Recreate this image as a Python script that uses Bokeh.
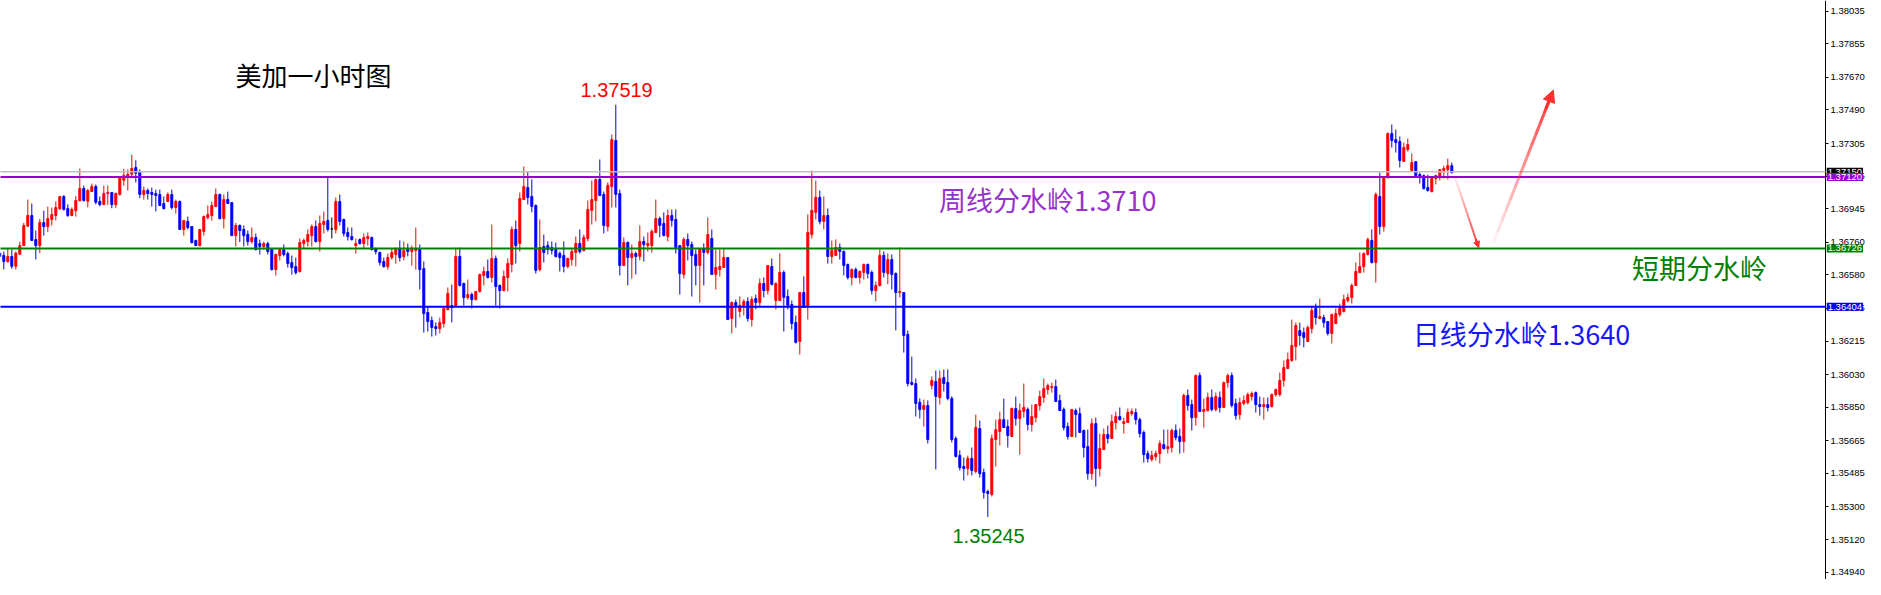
from bokeh.plotting import figure
from bokeh.models import (Range1d, FixedTicker, PrintfTickFormatter, Label,
                          Arrow, NormalHead, ColumnDataSource)
from bokeh.embed import file_html
from bokeh.resources import INLINE

# ---------------- data (USDCAD 1H candles) ----------------
opens = [
    1.36700, 1.36687, 1.36654, 1.36682, 1.36628, 1.36694, 1.36742, 1.36849, 1.36908, 1.36775,
    1.36742, 1.36869, 1.36847, 1.36886, 1.36908, 1.36945, 1.37013, 1.36946, 1.36908, 1.36935,
    1.36989, 1.37057, 1.36987, 1.37040, 1.37068, 1.36985, 1.36968, 1.37029, 1.37035, 1.36968,
    1.37024, 1.37103, 1.37123, 1.37136, 1.37173, 1.37147, 1.37024, 1.37046, 1.37035, 1.37029,
    1.37024, 1.36974, 1.36985, 1.37024, 1.36952, 1.36985, 1.36831, 1.36875, 1.36847, 1.36770,
    1.36742, 1.36820, 1.36897, 1.36908, 1.36957, 1.37024, 1.36891, 1.36996, 1.36979, 1.36797,
    1.36853, 1.36831, 1.36803, 1.36764, 1.36786, 1.36753, 1.36737, 1.36753, 1.36720, 1.36610,
    1.36687, 1.36720, 1.36698, 1.36649, 1.36626, 1.36599, 1.36753, 1.36764, 1.36797, 1.36847,
    1.36764, 1.36858, 1.36880, 1.36834, 1.36831, 1.36985, 1.36886, 1.36814, 1.36792, 1.36742,
    1.36775, 1.36753, 1.36781, 1.36786, 1.36726, 1.36704, 1.36654, 1.36626, 1.36676, 1.36693,
    1.36726, 1.36682, 1.36726, 1.36709, 1.36715, 1.36726, 1.36615, 1.36373, 1.36329, 1.36295,
    1.36284, 1.36312, 1.36389, 1.36411, 1.36411, 1.36682, 1.36533, 1.36455, 1.36472, 1.36444,
    1.36489, 1.36577, 1.36599, 1.36566, 1.36671, 1.36522, 1.36494, 1.36566, 1.36638, 1.36831,
    1.36754, 1.36996, 1.37062, 1.37013, 1.36963, 1.36610, 1.36737, 1.36742, 1.36731, 1.36720,
    1.36698, 1.36687, 1.36627, 1.36665, 1.36704, 1.36754, 1.36715, 1.36781, 1.36936, 1.36991,
    1.37107, 1.37024, 1.36847, 1.37068, 1.37322, 1.37029, 1.36632, 1.36759, 1.36676, 1.36698,
    1.36682, 1.36765, 1.36742, 1.36742, 1.36814, 1.36891, 1.36864, 1.36792, 1.36908, 1.36886,
    1.36742, 1.36583, 1.36776, 1.36748, 1.36693, 1.36632, 1.36726, 1.36704, 1.36781, 1.36583,
    1.36610, 1.36621, 1.36676, 1.36340, 1.36428, 1.36379, 1.36412, 1.36434, 1.36334, 1.36450,
    1.36428, 1.36533, 1.36494, 1.36627, 1.36439, 1.36439, 1.36594, 1.36461, 1.36417, 1.36318,
    1.36213, 1.36483, 1.36401, 1.36803, 1.36925, 1.37008, 1.36875, 1.36908, 1.36682, 1.36688,
    1.36732, 1.36710, 1.36638, 1.36566, 1.36610, 1.36566, 1.36594, 1.36638, 1.36594, 1.36494,
    1.36522, 1.36688, 1.36588, 1.36665, 1.36588, 1.36483, 1.36483, 1.36252, 1.35987, 1.35981,
    1.35877, 1.35838, 1.35860, 1.35970, 1.35992, 1.35904, 1.36014, 1.35987, 1.35899, 1.35678,
    1.35584, 1.35523, 1.35512, 1.35568, 1.35496, 1.35733, 1.35490, 1.35385, 1.35369, 1.35672,
    1.35716, 1.35782, 1.35744, 1.35689, 1.35843, 1.35788, 1.35827, 1.35838, 1.35755, 1.35793,
    1.35860, 1.35904, 1.35948, 1.35959, 1.35964, 1.35887, 1.35838, 1.35744, 1.35689, 1.35832,
    1.35815, 1.35722, 1.35633, 1.35484, 1.35760, 1.35512, 1.35617, 1.35700, 1.35678, 1.35766,
    1.35799, 1.35760, 1.35766, 1.35815, 1.35821, 1.35782, 1.35711, 1.35595, 1.35562, 1.35578,
    1.35595, 1.35644, 1.35622, 1.35628, 1.35722, 1.35689, 1.35661, 1.35915, 1.35865, 1.35793,
    1.36025, 1.35827, 1.35832, 1.35904, 1.35838, 1.35904, 1.35849, 1.35986, 1.36025, 1.35871,
    1.35810, 1.35871, 1.35876, 1.35909, 1.35931, 1.35865, 1.35854, 1.35865, 1.35854, 1.35920,
    1.35920, 1.35998, 1.36064, 1.36108, 1.36185, 1.36273, 1.36262, 1.36213, 1.36284, 1.36395,
    1.36339, 1.36345, 1.36323, 1.36257, 1.36312, 1.36361, 1.36378, 1.36439, 1.36455, 1.36522,
    1.36593, 1.36626, 1.36693, 1.36770, 1.36649, 1.37013, 1.36847, 1.37117, 1.37360, 1.37327,
    1.37316, 1.37206, 1.37272, 1.37156, 1.37205, 1.37134, 1.37128, 1.37062, 1.37040, 1.37112,
    1.37123, 1.37156, 1.37161, 1.37183,
]
highs = [
    1.36706, 1.36709, 1.36724, 1.36720, 1.36709, 1.36764, 1.36867, 1.36996, 1.36974, 1.36825,
    1.36889, 1.36935, 1.36957, 1.36952, 1.36985, 1.37013, 1.37020, 1.36970, 1.36952, 1.37015,
    1.37167, 1.37073, 1.37055, 1.37084, 1.37079, 1.37013, 1.37073, 1.37073, 1.37035, 1.37035,
    1.37114, 1.37165, 1.37162, 1.37244, 1.37213, 1.37162, 1.37068, 1.37057, 1.37062, 1.37051,
    1.37051, 1.37013, 1.37035, 1.37051, 1.36996, 1.36991, 1.36880, 1.36902, 1.36847, 1.36775,
    1.36831, 1.36908, 1.36963, 1.36985, 1.37057, 1.37029, 1.37024, 1.37040, 1.36979, 1.36867,
    1.36858, 1.36853, 1.36825, 1.36842, 1.36809, 1.36775, 1.36764, 1.36764, 1.36720, 1.36698,
    1.36726, 1.36748, 1.36709, 1.36687, 1.36676, 1.36781, 1.36781, 1.36831, 1.36858, 1.36880,
    1.36908, 1.36930, 1.37119, 1.36897, 1.37007, 1.37024, 1.36891, 1.36842, 1.36842, 1.36781,
    1.36781, 1.36809, 1.36814, 1.36792, 1.36731, 1.36709, 1.36676, 1.36698, 1.36726, 1.36731,
    1.36770, 1.36764, 1.36753, 1.36742, 1.36842, 1.36748, 1.36654, 1.36406, 1.36351, 1.36318,
    1.36345, 1.36400, 1.36511, 1.36527, 1.36731, 1.36731, 1.36538, 1.36555, 1.36483, 1.36489,
    1.36588, 1.36626, 1.36665, 1.36858, 1.36687, 1.36527, 1.36605, 1.36671, 1.36847, 1.36880,
    1.37035, 1.37178, 1.37151, 1.37107, 1.36969, 1.36886, 1.36803, 1.36765, 1.36765, 1.36759,
    1.36709, 1.36765, 1.36676, 1.36726, 1.36792, 1.36831, 1.36803, 1.36991, 1.37101, 1.37112,
    1.37217, 1.37040, 1.37090, 1.37355, 1.37519, 1.37051, 1.36787, 1.36765, 1.36748, 1.36709,
    1.36853, 1.36792, 1.36814, 1.36831, 1.36996, 1.36902, 1.36925, 1.36941, 1.36941, 1.36941,
    1.36742, 1.36787, 1.36809, 1.36765, 1.36720, 1.36726, 1.36754, 1.36897, 1.36831, 1.36720,
    1.36720, 1.36726, 1.36676, 1.36434, 1.36445, 1.36461, 1.36445, 1.36456, 1.36461, 1.36472,
    1.36561, 1.36566, 1.36632, 1.36671, 1.36539, 1.36699, 1.36605, 1.36500, 1.36439, 1.36356,
    1.36483, 1.36572, 1.36914, 1.37156, 1.37101, 1.37046, 1.37013, 1.36947, 1.36770, 1.36776,
    1.36754, 1.36715, 1.36643, 1.36616, 1.36621, 1.36605, 1.36643, 1.36643, 1.36605, 1.36544,
    1.36721, 1.36710, 1.36699, 1.36693, 1.36594, 1.36732, 1.36483, 1.36274, 1.36130, 1.36009,
    1.35899, 1.35893, 1.35888, 1.36020, 1.36053, 1.36053, 1.36059, 1.36059, 1.35910, 1.35689,
    1.35612, 1.35573, 1.35584, 1.35628, 1.35810, 1.35777, 1.35512, 1.35396, 1.35700, 1.35782,
    1.35826, 1.35898, 1.35782, 1.35849, 1.35909, 1.35871, 1.35981, 1.35849, 1.35865, 1.35865,
    1.35942, 1.36009, 1.35981, 1.35986, 1.36003, 1.35920, 1.35849, 1.35766, 1.35838, 1.35843,
    1.35849, 1.35727, 1.35727, 1.35788, 1.35793, 1.35705, 1.35733, 1.35749, 1.35810, 1.35827,
    1.35849, 1.35793, 1.35843, 1.35843, 1.35843, 1.35793, 1.35722, 1.35611, 1.35611, 1.35611,
    1.35667, 1.35727, 1.35727, 1.35733, 1.35755, 1.35733, 1.35926, 1.35948, 1.35893, 1.36031,
    1.36042, 1.35898, 1.35931, 1.35948, 1.35931, 1.35937, 1.35992, 1.36036, 1.36042, 1.35898,
    1.35904, 1.35915, 1.35931, 1.35937, 1.35937, 1.35909, 1.35904, 1.35904, 1.35926, 1.35953,
    1.36042, 1.36108, 1.36152, 1.36334, 1.36317, 1.36317, 1.36290, 1.36301, 1.36411, 1.36422,
    1.36450, 1.36361, 1.36323, 1.36367, 1.36395, 1.36422, 1.36472, 1.36477, 1.36533, 1.36649,
    1.36704, 1.36704, 1.36786, 1.36831, 1.37035, 1.37145, 1.37123, 1.37366, 1.37410, 1.37382,
    1.37344, 1.37310, 1.37333, 1.37250, 1.37205, 1.37145, 1.37134, 1.37134, 1.37117, 1.37134,
    1.37161, 1.37183, 1.37222, 1.37200,
]
lows = [
    1.36676, 1.36610, 1.36647, 1.36614, 1.36610, 1.36694, 1.36742, 1.36849, 1.36770, 1.36665,
    1.36700, 1.36797, 1.36816, 1.36853, 1.36880, 1.36939, 1.36935, 1.36900, 1.36904, 1.36902,
    1.36989, 1.36985, 1.36952, 1.37040, 1.36970, 1.36959, 1.36968, 1.36967, 1.36948, 1.36948,
    1.37018, 1.37073, 1.37046, 1.37114, 1.37090, 1.37003, 1.36996, 1.36996, 1.36957, 1.36930,
    1.36963, 1.36941, 1.36985, 1.36941, 1.36919, 1.36831, 1.36797, 1.36831, 1.36753, 1.36742,
    1.36737, 1.36797, 1.36886, 1.36880, 1.36957, 1.36886, 1.36836, 1.36974, 1.36797, 1.36737,
    1.36761, 1.36737, 1.36742, 1.36753, 1.36715, 1.36693, 1.36720, 1.36693, 1.36604, 1.36577,
    1.36660, 1.36682, 1.36621, 1.36582, 1.36582, 1.36593, 1.36726, 1.36737, 1.36737, 1.36759,
    1.36709, 1.36809, 1.36820, 1.36781, 1.36809, 1.36853, 1.36792, 1.36770, 1.36770, 1.36698,
    1.36748, 1.36726, 1.36742, 1.36715, 1.36693, 1.36632, 1.36621, 1.36610, 1.36665, 1.36643,
    1.36654, 1.36660, 1.36682, 1.36632, 1.36610, 1.36500, 1.36262, 1.36268, 1.36240, 1.36246,
    1.36257, 1.36290, 1.36384, 1.36318, 1.36411, 1.36516, 1.36411, 1.36444, 1.36395, 1.36439,
    1.36483, 1.36522, 1.36560, 1.36538, 1.36411, 1.36395, 1.36489, 1.36489, 1.36594, 1.36643,
    1.36709, 1.36996, 1.36969, 1.36925, 1.36588, 1.36599, 1.36649, 1.36693, 1.36693, 1.36676,
    1.36599, 1.36594, 1.36616, 1.36632, 1.36627, 1.36698, 1.36709, 1.36765, 1.36858, 1.36875,
    1.37018, 1.36809, 1.36820, 1.36952, 1.36952, 1.36577, 1.36632, 1.36522, 1.36560, 1.36583,
    1.36660, 1.36654, 1.36709, 1.36704, 1.36814, 1.36787, 1.36792, 1.36765, 1.36847, 1.36698,
    1.36472, 1.36560, 1.36660, 1.36461, 1.36522, 1.36428, 1.36522, 1.36693, 1.36583, 1.36500,
    1.36571, 1.36621, 1.36334, 1.36257, 1.36290, 1.36345, 1.36356, 1.36323, 1.36296, 1.36390,
    1.36401, 1.36456, 1.36472, 1.36522, 1.36390, 1.36439, 1.36268, 1.36390, 1.36279, 1.36202,
    1.36141, 1.36401, 1.36334, 1.36781, 1.36886, 1.36859, 1.36831, 1.36643, 1.36643, 1.36688,
    1.36665, 1.36577, 1.36555, 1.36522, 1.36561, 1.36533, 1.36555, 1.36561, 1.36472, 1.36434,
    1.36516, 1.36566, 1.36528, 1.36500, 1.36274, 1.36456, 1.36152, 1.35965, 1.35970, 1.35799,
    1.35788, 1.35744, 1.35650, 1.35948, 1.35507, 1.35865, 1.35937, 1.35888, 1.35656, 1.35573,
    1.35501, 1.35446, 1.35474, 1.35474, 1.35485, 1.35462, 1.35346, 1.35245, 1.35358, 1.35523,
    1.35639, 1.35738, 1.35628, 1.35689, 1.35749, 1.35589, 1.35793, 1.35722, 1.35716, 1.35766,
    1.35832, 1.35876, 1.35920, 1.35931, 1.35882, 1.35832, 1.35722, 1.35672, 1.35689, 1.35683,
    1.35711, 1.35573, 1.35451, 1.35451, 1.35413, 1.35468, 1.35617, 1.35650, 1.35678, 1.35727,
    1.35777, 1.35705, 1.35766, 1.35804, 1.35755, 1.35683, 1.35545, 1.35545, 1.35551, 1.35556,
    1.35540, 1.35617, 1.35595, 1.35600, 1.35667, 1.35595, 1.35600, 1.35832, 1.35722, 1.35749,
    1.35827, 1.35738, 1.35827, 1.35827, 1.35827, 1.35821, 1.35849, 1.35959, 1.35849, 1.35782,
    1.35782, 1.35860, 1.35865, 1.35887, 1.35821, 1.35804, 1.35782, 1.35827, 1.35849, 1.35909,
    1.35909, 1.35964, 1.36064, 1.36102, 1.36108, 1.36191, 1.36180, 1.36213, 1.36257, 1.36306,
    1.36339, 1.36290, 1.36246, 1.36202, 1.36312, 1.36350, 1.36373, 1.36428, 1.36422, 1.36522,
    1.36593, 1.36593, 1.36687, 1.36643, 1.36538, 1.36803, 1.36819, 1.37112, 1.37283, 1.37255,
    1.37173, 1.37206, 1.37261, 1.37151, 1.37123, 1.37084, 1.37051, 1.37040, 1.37035, 1.37079,
    1.37101, 1.37112, 1.37106, 1.37139,
]
closes = [
    1.36682, 1.36654, 1.36682, 1.36628, 1.36700, 1.36742, 1.36853, 1.36908, 1.36770, 1.36742,
    1.36869, 1.36847, 1.36891, 1.36913, 1.36952, 1.37013, 1.36941, 1.36908, 1.36941, 1.36991,
    1.37057, 1.36991, 1.37046, 1.37068, 1.36981, 1.36968, 1.37029, 1.37035, 1.36968, 1.37029,
    1.37114, 1.37129, 1.37136, 1.37167, 1.37141, 1.37024, 1.37046, 1.37029, 1.37024, 1.37018,
    1.36963, 1.36946, 1.37024, 1.36952, 1.36985, 1.36831, 1.36880, 1.36842, 1.36759, 1.36742,
    1.36831, 1.36902, 1.36913, 1.36963, 1.37024, 1.36891, 1.36996, 1.36974, 1.36797, 1.36853,
    1.36825, 1.36797, 1.36764, 1.36786, 1.36720, 1.36737, 1.36753, 1.36709, 1.36610, 1.36693,
    1.36720, 1.36693, 1.36643, 1.36621, 1.36593, 1.36759, 1.36770, 1.36803, 1.36847, 1.36764,
    1.36864, 1.36875, 1.36831, 1.36834, 1.36985, 1.36875, 1.36809, 1.36792, 1.36775, 1.36753,
    1.36753, 1.36786, 1.36792, 1.36720, 1.36709, 1.36649, 1.36626, 1.36676, 1.36704, 1.36726,
    1.36676, 1.36715, 1.36709, 1.36720, 1.36726, 1.36610, 1.36367, 1.36323, 1.36290, 1.36284,
    1.36318, 1.36395, 1.36478, 1.36400, 1.36682, 1.36522, 1.36455, 1.36472, 1.36444, 1.36489,
    1.36582, 1.36599, 1.36566, 1.36671, 1.36516, 1.36494, 1.36571, 1.36643, 1.36831, 1.36742,
    1.37002, 1.37068, 1.37007, 1.36958, 1.36605, 1.36731, 1.36704, 1.36720, 1.36715, 1.36682,
    1.36676, 1.36627, 1.36671, 1.36709, 1.36754, 1.36709, 1.36787, 1.36941, 1.36996, 1.37107,
    1.37018, 1.36853, 1.37074, 1.37327, 1.37024, 1.36632, 1.36759, 1.36676, 1.36698, 1.36682,
    1.36765, 1.36748, 1.36754, 1.36820, 1.36891, 1.36853, 1.36798, 1.36908, 1.36880, 1.36731,
    1.36588, 1.36776, 1.36742, 1.36687, 1.36632, 1.36726, 1.36704, 1.36803, 1.36583, 1.36621,
    1.36627, 1.36676, 1.36334, 1.36428, 1.36412, 1.36412, 1.36434, 1.36340, 1.36445, 1.36428,
    1.36533, 1.36494, 1.36632, 1.36528, 1.36533, 1.36594, 1.36456, 1.36412, 1.36312, 1.36208,
    1.36483, 1.36401, 1.36814, 1.36936, 1.37008, 1.36875, 1.36908, 1.36682, 1.36715, 1.36732,
    1.36710, 1.36632, 1.36566, 1.36610, 1.36566, 1.36599, 1.36638, 1.36588, 1.36494, 1.36522,
    1.36688, 1.36594, 1.36665, 1.36583, 1.36483, 1.36489, 1.36246, 1.35981, 1.35976, 1.35871,
    1.35838, 1.35860, 1.35672, 1.35998, 1.35910, 1.36009, 1.35981, 1.35899, 1.35672, 1.35579,
    1.35518, 1.35512, 1.35568, 1.35501, 1.35739, 1.35484, 1.35380, 1.35374, 1.35677, 1.35727,
    1.35782, 1.35738, 1.35694, 1.35843, 1.35788, 1.35832, 1.35849, 1.35755, 1.35799, 1.35865,
    1.35909, 1.35953, 1.35970, 1.35964, 1.35882, 1.35832, 1.35738, 1.35689, 1.35838, 1.35810,
    1.35711, 1.35628, 1.35484, 1.35760, 1.35512, 1.35622, 1.35700, 1.35678, 1.35771, 1.35799,
    1.35782, 1.35771, 1.35821, 1.35827, 1.35782, 1.35705, 1.35589, 1.35567, 1.35584, 1.35595,
    1.35650, 1.35622, 1.35633, 1.35722, 1.35683, 1.35661, 1.35915, 1.35860, 1.35793, 1.36025,
    1.35827, 1.35838, 1.35904, 1.35838, 1.35909, 1.35849, 1.35986, 1.36025, 1.35860, 1.35804,
    1.35876, 1.35887, 1.35920, 1.35926, 1.35865, 1.35854, 1.35865, 1.35849, 1.35920, 1.35948,
    1.35998, 1.36069, 1.36113, 1.36191, 1.36301, 1.36246, 1.36235, 1.36290, 1.36384, 1.36345,
    1.36350, 1.36317, 1.36257, 1.36361, 1.36367, 1.36400, 1.36444, 1.36455, 1.36522, 1.36599,
    1.36626, 1.36698, 1.36775, 1.36649, 1.37024, 1.36847, 1.37117, 1.37360, 1.37321, 1.37310,
    1.37211, 1.37283, 1.37299, 1.37200, 1.37128, 1.37117, 1.37057, 1.37046, 1.37112, 1.37128,
    1.37161, 1.37167, 1.37183, 1.37145,
]

price_ticks = [1.38035, 1.37855, 1.37670, 1.37490, 1.37305, 1.37125, 1.36945, 1.36760,
               1.36580, 1.36395, 1.36215, 1.36030, 1.35850, 1.35665, 1.35485, 1.35300,
               1.35120, 1.34940]

level_prices = [1.37150, 1.37120, 1.36726, 1.36404]
level_names = ["1.37150", "1.37120", "1.36726", "1.36404"]
level_colors = ["#C0C0C0", "#9400D3", "#008000", "#0000FF"]
level_box_colors = ["#000000", "#9400D3", "#008000", "#0000FF"]
level_widths = [1.5, 2, 2, 2]

high_mark = 1.37519
low_mark = 1.35245

# ---------------- figure ----------------
AXIS_X = 456.425   # candle-index position of the price axis line
p = figure(width=1865, height=579,
           x_range=Range1d(0.175, 466.425), y_range=Range1d(1.34900, 1.38094),
           y_axis_location="right", x_axis_location=None,
           output_backend="svg", toolbar_location=None, min_border=0)
p.grid.visible = False
p.outline_line_color = None
p.background_fill_color = "white"
p.border_fill_color = "white"

ax = p.yaxis[0]
ax.fixed_location = AXIS_X
ax.ticker = FixedTicker(ticks=price_ticks)
ax.formatter = PrintfTickFormatter(format="%.5f")
ax.major_tick_out = 3
ax.major_tick_in = 0
ax.minor_tick_line_color = None
ax.major_label_standoff = 2
ax.major_label_text_font = "Liberation Sans"
ax.major_label_text_font_size = "9.5px"
ax.major_label_text_color = "#000000"
ax.axis_line_color = "#000000"
ax.major_tick_line_color = "#000000"

# horizontal levels (end at the price axis)
x_left = p.x_range.start
for lv, col, lw in zip(level_prices, level_colors, level_widths):
    p.segment(x0=[x_left], y0=[lv], x1=[AXIS_X], y1=[lv], line_color=col, line_width=lw,
              level="annotation")

# candles
n = len(opens)
idx = list(range(n))
colors = []
for o, c in zip(opens, closes):
    if c > o:
        colors.append("#FF0000")
    elif c < o:
        colors.append("#0000FF")
    else:
        colors.append("#000000")
src = ColumnDataSource(dict(
    x=idx, h=highs, l=lows,
    top=[max(o, c) for o, c in zip(opens, closes)],
    bottom=[min(o, c) for o, c in zip(opens, closes)],
    color=colors))
p.segment(x0="x", y0="l", x1="x", y1="h", line_color="color", line_width=1, source=src)
p.vbar(x="x", width=0.5, top="top", bottom="bottom", fill_color="color",
       line_color="color", line_width=1, source=src)

# red forecast arrows (gradient lines)
ARROW_RED = "#FF3030"
def gradient_line(x0, y0, x1, y1, a0, a1, width, steps=14):
    xs0, ys0, xs1, ys1, al = [], [], [], [], []
    for k in range(steps):
        t0 = k / steps
        t1 = (k + 1) / steps
        xs0.append(x0 + (x1 - x0) * t0)
        ys0.append(y0 + (y1 - y0) * t0)
        xs1.append(x0 + (x1 - x0) * t1)
        ys1.append(y0 + (y1 - y0) * t1)
        al.append(a0 + (a1 - a0) * (t0 + t1) / 2)
    p.segment(x0=xs0, y0=ys0, x1=xs1, y1=ys1, line_color=ARROW_RED,
              line_alpha=al, line_width=width, level="overlay")

gradient_line(363.9, 1.37112, 369.7, 1.36731, 0.1, 1.0, 2)
p.add_layout(Arrow(end=NormalHead(size=6, fill_color=ARROW_RED, line_color=ARROW_RED),
                   x_start=369.0, y_start=1.36776, x_end=369.7, y_end=1.36731,
                   line_color=ARROW_RED, line_width=2))
gradient_line(373.4, 1.36759, 388.2, 1.37590, 0.05, 1.0, 3)
p.add_layout(Arrow(end=NormalHead(size=12, fill_color=ARROW_RED, line_color=ARROW_RED),
                   x_start=386.5, y_start=1.37495, x_end=388.4, y_end=1.37600,
                   line_color=ARROW_RED, line_width=3))

# text annotations
CJK = "Noto Sans CJK SC"
def add_text(txt, x, y, color, size, font):
    p.add_layout(Label(x=x, y=y, text=txt, text_color=color, text_font=font,
                       text_font_size=size, text_align="center", text_baseline="middle"))

add_text("美加一小时图", 78.4, 1.37686, "#000000", "26px", CJK)
add_text(f"{high_mark:.5f}", 154.2, 1.37603, "#FF0000", "20px", "Liberation Sans")
add_text("周线分水岭1.3710", 262.0, 1.36996, "#9932CC", "27px", CJK)
add_text("短期分水岭", 424.9, 1.36621, "#008000", "27px", CJK)
add_text("日线分水岭1.3640", 380.4, 1.36257, "#1515FF", "27px", CJK)
add_text(f"{low_mark:.5f}", 247.2, 1.35142, "#008000", "20px", "Liberation Sans")

# price boxes on the axis
for lv, name, bg in zip(level_prices, level_names, level_box_colors):
    p.add_layout(Label(x=AXIS_X + 0.3, y=lv, text=name, text_color="white",
                       text_font="Liberation Sans", text_font_size="9.5px",
                       text_align="left", text_baseline="middle",
                       background_fill_color=bg, background_fill_alpha=1.0,
                       padding=1, level="overlay"))

open("out.html", "w").write(file_html(p, INLINE))
